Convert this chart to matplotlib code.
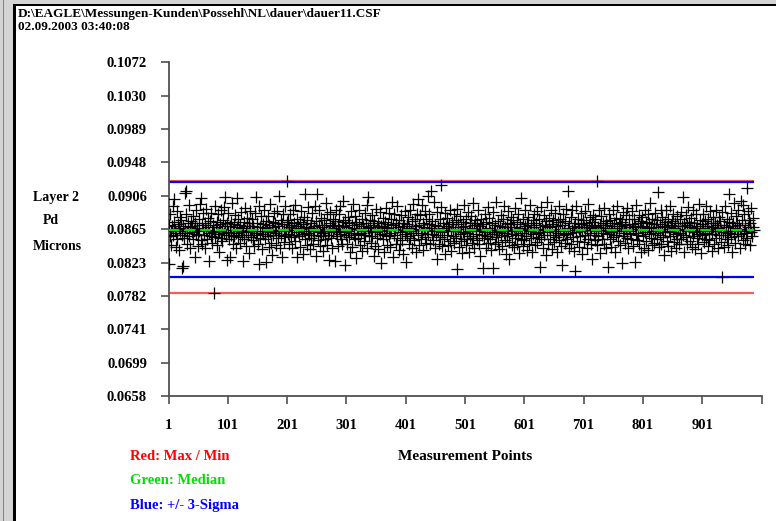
import numpy as np
import matplotlib
matplotlib.use("Agg")
import matplotlib.pyplot as plt
from matplotlib.patches import Rectangle

# ---------- data ----------
# Pd layer thickness per measurement point, in units of 1e-5 micron
pd_1e5 = [
    8210, 8700, 8560, 8840, 8620, 8450, 8690, 8930, 8580, 8740, 9020, 8640, 8430, 8600, 8870, 8530, 8710, 8390, 8660, 8800,
    8620, 8760, 8170, 8580, 8690, 8190, 8540, 9100, 8650, 8830, 9120, 8600, 8470, 8720, 8950, 8560, 8680, 8410, 8750, 8610,
    8690, 8520, 8810, 8640, 8300, 8730, 8590, 8880, 8660, 8440, 8570, 8780, 8620, 8960, 8510, 9040, 8700, 8460, 8650, 8850,
    8580, 8720, 8420, 8640, 8900, 8530, 8680, 8790, 8600, 8250, 8750, 8560, 8850, 8630, 8480, 8700, 7860, 8610, 8940, 8550,
    8670, 8450, 8740, 8590, 8830, 8620, 8370, 8710, 8540, 8880, 8650, 8500, 8760, 8600, 8920, 8690, 9050, 8570, 8260, 8720,
    8610, 8850, 8530, 8690, 8300, 8740, 8580, 8970, 8640, 8460, 8710, 8560, 8820, 8600, 8420, 8680, 9040, 8550, 8770, 8630,
    8700, 8480, 8620, 8860, 8570, 8250, 8660, 8740, 8530, 8910, 8610, 8440, 8690, 8790, 8580, 8350, 8720, 8640, 8870, 8550,
    8650, 8780, 8510, 8690, 8440, 8620, 8850, 8580, 9050, 8730, 8600, 8460, 8940, 8210, 8670, 8540, 8810, 8630, 8400, 8710,
    8590, 8880, 8660, 8520, 8750, 8240, 8620, 8810, 8560, 8430, 8700, 8960, 8610, 8480, 8680, 8330, 8740, 8570, 8850, 8640,
    8720, 8450, 8600, 8870, 8540, 8690, 9060, 8630, 8410, 8760, 8580, 8300, 8710, 8840, 8650, 8490, 8560, 8930, 8620, 8740,
    9249, 8590, 8760, 8460, 8680, 8830, 8550, 8700, 8420, 8640, 8890, 8570, 8730, 8950, 8500, 8660, 8780, 8300, 8610, 8690,
    8560, 8740, 8430, 8650, 8870, 8590, 8340, 8710, 8620, 8800, 9090, 8530, 8680, 8450, 8760, 8600, 8920, 8570, 8660, 8400,
    8730, 8540, 8850, 8620, 8470, 8690, 8580, 8930, 8310, 8750, 8640, 9080, 8510, 8700, 8880, 8440, 8610, 8790, 8560, 8670,
    8600, 8380, 8760, 8650, 8520, 8970, 8700, 8450, 8840, 8580, 8630, 8270, 8720, 8860, 8540, 8690, 8410, 8610, 8780, 8660,
    8250, 8750, 8620, 8880, 8560, 8700, 8440, 8650, 8830, 8590, 8940, 8520, 8690, 8470, 8740, 9000, 8610, 8200, 8760, 8570,
    8680, 8460, 8800, 8630, 8550, 8720, 8360, 8870, 8600, 8700, 8430, 8960, 8580, 8660, 8810, 8530, 8740, 8290, 8650, 8590,
    8540, 8710, 8890, 8450, 8640, 8600, 8770, 8380, 8690, 8620, 8500, 8850, 8570, 8730, 8420, 8950, 8660, 9050, 8560, 8680,
    8760, 8480, 8630, 8820, 8560, 8700, 8320, 8750, 8610, 8440, 8900, 8670, 8540, 8720, 8400, 8640, 8860, 8590, 8690, 8230,
    8620, 8790, 8530, 8680, 8370, 8740, 8580, 8910, 8450, 8660, 8710, 8560, 8850, 8600, 8430, 8780, 8640, 8990, 8300, 8700,
    8570, 8830, 8650, 8470, 8720, 8940, 8540, 8680, 8390, 8760, 8610, 8460, 8820, 8640, 8510, 8730, 8340, 8690, 8590, 8870,
    8630, 8240, 8710, 8560, 8800, 8470, 8660, 8890, 8540, 8620, 8410, 8750, 8600, 8960, 8510, 8690, 8780, 8360, 8650, 8840,
    9020, 8580, 8700, 8450, 8820, 8640, 8530, 8950, 8600, 8730, 8390, 8680, 8870, 8550, 8770, 8480, 8640, 9060, 8590, 8710,
    8840, 8460, 8660, 9120, 8590, 8750, 8510, 8990, 8630, 8410, 8700, 8570, 8280, 8860, 8620, 8690, 8470, 8780, 8550, 8920,
    9200, 8610, 8440, 8720, 8660, 8520, 8850, 8340, 8690, 8580, 8790, 8450, 8640, 8710, 8500, 8880, 8620, 8380, 8740, 8560,
    8680, 8830, 8480, 8620, 8760, 8540, 8900, 8160, 8650, 8710, 8430, 8590, 8810, 8500, 8670, 8350, 8740, 8610, 8950, 8530,
    8690, 8450, 8780, 8600, 8520, 8860, 8630, 8370, 8720, 8560, 8810, 8480, 8660, 8970, 8540, 8700, 8410, 8760, 8590, 8640,
    8510, 8730, 8880, 8460, 8620, 8690, 8320, 8770, 8580, 8650, 8170, 8710, 8540, 8840, 8610, 8420, 8740, 8560, 8920, 8480,
    8660, 8790, 8520, 8610, 8390, 8720, 8590, 8170, 8860, 8640, 8460, 8700, 8550, 8980, 8610, 8490, 8750, 8630, 8400, 8690,
    8820, 8570, 8650, 8440, 8780, 8600, 8930, 8510, 8680, 8340, 8730, 8560, 8870, 8620, 8490, 8280, 8710, 8640, 8800, 8450,
    8590, 8760, 8430, 8680, 8540, 8910, 8620, 8470, 8740, 8580, 8840, 8350, 8660, 8710, 8520, 9030, 8600, 8440, 8770, 8640,
    8510, 8690, 8880, 8560, 8730, 8390, 8650, 8800, 8470, 8620, 8950, 8540, 8700, 8370, 8760, 8590, 8670, 8840, 8450, 8610,
    8720, 8490, 8870, 8600, 8550, 8780, 8180, 8650, 8920, 8530, 8700, 8420, 8640, 8820, 8570, 8690, 8330, 8750, 8610, 8990,
    8460, 8670, 8790, 8520, 8640, 8890, 8400, 8710, 8580, 8760, 8490, 8620, 8850, 8550, 8690, 8360, 8740, 8600, 8930, 8510,
    8650, 8780, 8440, 8200, 8700, 8570, 8840, 8620, 8480, 8750, 8590, 8900, 8530, 9120, 8660, 8410, 8720, 8600, 8800, 8460,
    8640, 8880, 8550, 8690, 8380, 8130, 8730, 8610, 8930, 8500, 8670, 8780, 8430, 8650, 8560, 8850, 8710, 8340, 8620, 8760,
    8490, 8680, 8870, 8570, 8720, 8420, 8640, 8960, 8530, 8700, 8600, 8800, 8460, 8660, 8740, 8280, 8820, 8580, 8690, 8510,
    8770, 8620, 9249, 8450, 8680, 8560, 8890, 8700, 8350, 8640, 8810, 8530, 8720, 8600, 8910, 8470, 8660, 8750, 8420, 8590,
    8700, 8175, 8840, 8630, 8520, 8760, 8610, 8430, 8690, 8880, 8550, 8720, 8640, 8370, 8790, 8580, 8660, 8940, 8500, 8710,
    8620, 8450, 8780, 8690, 8230, 8740, 8560, 8860, 8600, 8700, 8480, 8820, 8650, 8540, 8910, 8410, 8680, 8770, 8590, 8630,
    8520, 8870, 8710, 8440, 8650, 8780, 8240, 8690, 8600, 8950, 8510, 8730, 8580, 8820, 8460, 8670, 8750, 8360, 8640, 8800,
    8560, 8690, 8420, 8890, 8610, 8740, 8500, 8660, 8830, 8390, 8720, 8590, 8970, 8540, 8680, 8450, 8770, 8620, 8710, 8480,
    8850, 8600, 8680, 8520, 8760, 9110, 8640, 8430, 8710, 8580, 8890, 8470, 8650, 8800, 8550, 8690, 8330, 8740, 8610, 8880,
    8500, 8670, 8780, 8440, 8630, 8930, 8560, 8700, 8380, 8750, 8610, 8840, 8490, 8660, 8720, 8410, 8590, 8810, 8530, 8690,
    8640, 8470, 8770, 8600, 8860, 8520, 8690, 9050, 8580, 8730, 8360, 8650, 8820, 8550, 8700, 8460, 8920, 8620, 8740, 8500,
    8680, 8790, 8430, 8640, 8560, 8880, 8610, 8720, 8400, 8660, 8830, 8540, 8690, 8470, 8960, 8590, 8760, 8620, 8350, 8710,
    8570, 8840, 8660, 8490, 8750, 8600, 8930, 8530, 8690, 8440, 8780, 8630, 8510, 8870, 8650, 8720, 8380, 8590, 8800, 8680,
    8460, 8730, 8620, 8890, 8540, 8700, 8410, 8660, 8800, 8580, 8750, 8490, 8640, 8050, 8860, 8610, 8700, 8430, 8570, 8930,
    8680, 8520, 8780, 8600, 8450, 8740, 9080, 8630, 8850, 8550, 8690, 8370, 8720, 8970, 8590, 8660, 8480, 8810, 8640, 8730,
    8560, 8880, 8700, 8420, 8650, 9000, 8590, 8760, 8510, 8950, 8620, 8830, 8470, 8700, 8600, 9160, 8540, 8870, 8680, 8760,
    8450, 8720, 8910, 8610, 8560, 8790, 8680, 8640,
]
pd_values = np.array(pd_1e5) / 1e5
points = np.arange(1, len(pd_values) + 1)

# control limits (micron)
max_val = 0.09249
min_val = 0.07860
median_val = 0.08638
sigma_hi = 0.09229
sigma_lo = 0.08059

y_ticks = [0.0658, 0.0699, 0.0741, 0.0782, 0.0823, 0.0865, 0.0906, 0.0948, 0.0989, 0.1030, 0.1072]
x_ticks = [1, 101, 201, 301, 401, 501, 601, 701, 801, 901, 1001]
x_tick_labels = ["1", "101", "201", "301", "401", "501", "601", "701", "801", "901", ""]

file_name = "D:\\EAGLE\\Messungen-Kunden\\Possehl\\NL\\dauer\\dauer11.CSF"
time_stamp = "02.09.2003 03:40:08"

# ---------- figure ----------
plt.rcParams["font.family"] = ["Liberation Serif", "DejaVu Serif"]
plt.rcParams["font.weight"] = "bold"

W, H = 776, 521
fig = plt.figure(figsize=(W / 100, H / 100), dpi=100)
fig.patch.set_facecolor("#d4d4d4")


def px_rect(x0, y0, x1, y1, color):
    # rectangle given in pixel coords (origin top-left)
    fig.add_artist(Rectangle((x0 / W, 1 - y1 / H), (x1 - x0) / W, (y1 - y0) / H,
                             transform=fig.transFigure, facecolor=color,
                             edgecolor="none", zorder=-5))


px_rect(3, 0, 4, H, "#808080")
px_rect(13, 4, W, H, "black")
px_rect(16, 6, W, H, "white")

ax = fig.add_axes([168.5 / W, (H - 396) / H, 593 / W, 334 / H])
ax.set_facecolor("none")
ax.set_xlim(1, 1001)
ax.set_ylim(y_ticks[0], y_ticks[-1])

ax.hlines([max_val, min_val], 1, len(points), colors="#ff5a5a", lw=1.6, zorder=2)
ax.hlines([sigma_hi, sigma_lo], 1, len(points), colors="#0000ff", lw=1.6, zorder=2)
ax.plot(points, pd_values, ls="none", marker="+", ms=9, mew=0.9, color="black", zorder=3)
ax.hlines(median_val, 1, len(points), colors="#00e000", lw=1.5,
          linestyles=(0, (5, 2.5)), zorder=4)

ax.set_yticks(y_ticks)
ax.set_yticklabels([f"{v:.4f}" for v in y_ticks])
ax.set_xticks(x_ticks)
ax.set_xticklabels(x_tick_labels)

for s in ["top", "right"]:
    ax.spines[s].set_visible(False)
for s in ["left", "bottom"]:
    ax.spines[s].set_color("#505050")
    ax.spines[s].set_linewidth(1.3)

ax.tick_params(axis="both", direction="out", length=5.5, width=1.2, color="#505050",
               labelsize=10.5, labelcolor="black")
ax.tick_params(axis="y", pad=10)
ax.tick_params(axis="x", pad=11)

# header
fig.text(18 / W, 1 - 13.5 / H, file_name, fontsize=9.5, fontweight="bold", va="center", ha="left")
fig.text(18 / W, 1 - 27.5 / H, time_stamp, fontsize=9.5, fontweight="bold", va="center", ha="left")

# y caption
fig.text(56 / W, 1 - 197 / H, "Layer 2", fontsize=10, fontweight="bold", ha="center", va="center")
fig.text(51 / W, 1 - 221 / H, "Pd", fontsize=10, fontweight="bold", ha="center", va="center")
fig.text(57 / W, 1 - 246 / H, "Microns", fontsize=10, fontweight="bold", ha="center", va="center")

# x caption + legend notes
fig.text(465 / W, 1 - 456 / H, "Measurement Points", fontsize=11, fontweight="bold",
         ha="center", va="center")
fig.text(130 / W, 1 - 456 / H, "Red: Max / Min", fontsize=10.5, fontweight="bold",
         color="#ff0000", ha="left", va="center")
fig.text(130 / W, 1 - 481 / H, "Green: Median", fontsize=10.5, fontweight="bold",
         color="#00e000", ha="left", va="center")
fig.text(130 / W, 1 - 506 / H, "Blue: +/- 3-Sigma", fontsize=10.5, fontweight="bold",
         color="#0000ff", ha="left", va="center")

fig.savefig("out.png", dpi=100, facecolor=fig.get_facecolor())
